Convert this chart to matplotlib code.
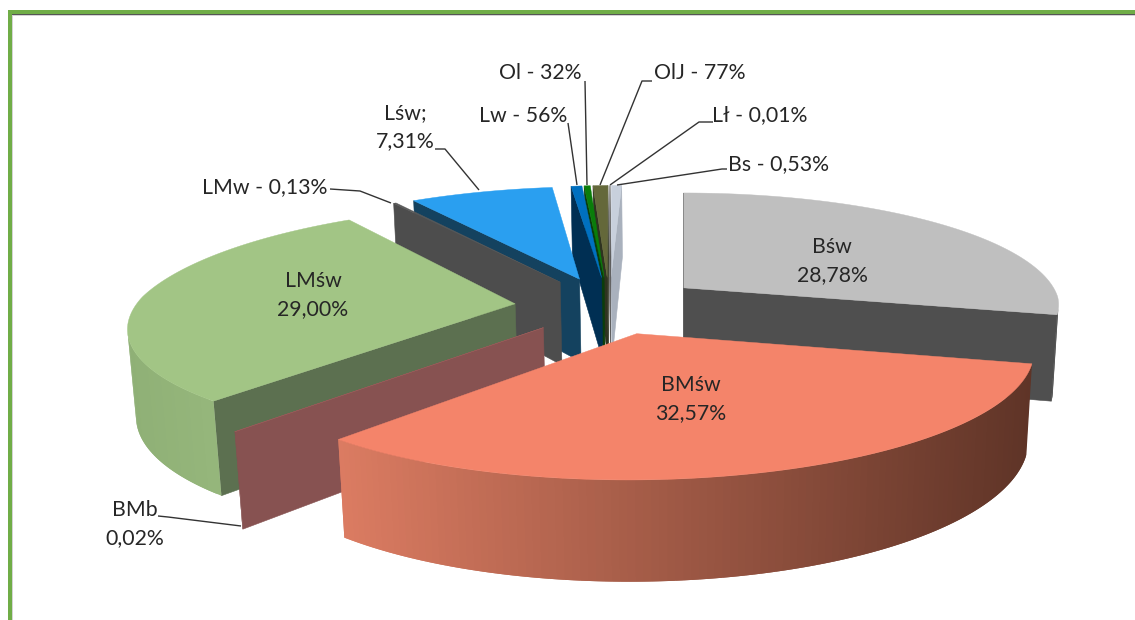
import numpy as np
from matplotlib import pyplot as plt
from matplotlib.colors import to_rgb
from matplotlib.patches import Polygon, Rectangle

plt.rcParams['font.family'] = ['Lato', 'DejaVu Sans']

# shares in percent, clockwise from 12 o'clock
names = ['Bśw', 'BMśw', 'BMb', 'LMśw', 'LMw', 'Lśw', 'Lw', 'Ol', 'OlJ', 'Lł', 'Bs']
shares = [28.78, 32.57, 0.02, 29.00, 0.13, 7.31, 0.56, 0.32, 0.77, 0.01, 0.53]

top_colors = ['#bfbfbf', '#f4846a', '#9a5c5a', '#a2c585', '#595959', '#2a9ff0',
              '#0070c0', '#0a7d0a', '#64683a', '#7f7f7f', '#c8d0dc']
face_colors = ['#4f4f4f', '#8a4a3a', '#875251', '#5c7050', '#4d4d4d', '#14425f',
               '#002f53', '#0b3d0b', '#2f3320', '#555555', '#a9b1bd']
rim_left = ['#4f4f4f', '#dc7c62', '#875251', '#8fb076', '#4d4d4d', '#14425f',
            '#002f53', '#0b3d0b', '#2f3320', '#555555', '#a9b1bd']
rim_right = ['#4f4f4f', '#5f3427', '#875251', '#9fc083', '#4d4d4d', '#14425f',
             '#002f53', '#0b3d0b', '#2f3320', '#555555', '#a9b1bd']

# labels and their leader lines (pixels)
inside_labels = [('Bśw\n28,78%', 832, 261), ('BMśw\n32,57%', 691, 399),
                 ('LMśw\n29,00%', 313, 295)]
outside_labels = [('LMw - 0,13%', 265, 187), ('Lśw;\n7,31%', 405, 127),
                  ('Lw - 56%', 523, 116), ('Ol - 32%', 540, 73),
                  ('OlJ - 77%', 700, 73), ('Lł - 0,01%', 760, 115),
                  ('Bs - 0,53%', 779, 164), ('BMb\n0,02%', 135, 524)]
leaders = [[(330, 189), (360, 191), (391, 203)],
           [(435, 149), (445, 149), (479, 190)],
           [(568, 123), (577, 185)],
           [(585, 81), (587, 185)],
           [(652, 81), (642, 81), (600, 185)],
           [(713, 122), (699, 122), (610, 185)],
           [(727, 169), (722, 169), (617, 185)],
           [(158, 516), (168, 517), (241, 526)]]

# projection, fitted to the picture
view_x, view_y = 683, 297
radius_px, height_px = 375, 86
depth_far, depth_near = 115, 112
persp_far, persp_near = 0.18, 0.15
persp_z = 0.015
center = (-0.194, -0.074)
explode = 0.25


def project(x, y, z=0.0):
    y = np.asarray(y, dtype=float)
    p = np.where(y > 0, persp_far, persp_near)
    d = np.where(y > 0, depth_far, depth_near)
    f = 1 / (1 + p * y + persp_z * z)
    return view_x + radius_px * x * f, view_y - d * y * f + height_px * z * f


def mix(c0, c1, t):
    a, b = np.array(to_rgb(c0)), np.array(to_rgb(c1))
    return tuple(a + (b - a) * t)


def faces_camera(px, py, nx, ny):
    # camera sits in front of the pie, at x=0
    return nx * (0 - px) + ny * (-1 / persp_far - py) > 0


fig = plt.figure(figsize=(11.35, 6.2), dpi=100)
ax = fig.add_axes([0, 0, 1, 1])
ax.set_xlim(0, 1135)
ax.set_ylim(620, 0)
ax.axis('off')

# frame
ax.add_patch(Rectangle((8, 10), 1127, 4, color='#70ad47', lw=0))
ax.add_patch(Rectangle((8, 10), 4, 610, color='#70ad47', lw=0))
ax.add_patch(Rectangle((12, 14), 1123, 1.2, color='#555555', lw=0))
ax.add_patch(Rectangle((12, 15), 1123, 1, color='#d4d4d4', lw=0))
ax.add_patch(Rectangle((12, 15), 1, 605, color='#d4d4d4', lw=0))

edges = np.concatenate([[0], np.cumsum(shares)]) / sum(shares) * 2 * np.pi
mids = (edges[:-1] + edges[1:]) / 2

# far slices first
for i in sorted(range(len(shares)), key=lambda k: -np.cos(mids[k])):
    a0, a1 = edges[i], edges[i + 1]
    ox = center[0] + explode * np.sin(mids[i])
    oy = center[1] + explode * np.cos(mids[i])
    th = np.linspace(a0, a1, max(3, int(np.degrees(a1 - a0)) + 2))
    xs = ox + np.sin(th)
    ys = oy + np.cos(th)

    # radial cut faces
    for a, sign, xe, ye in [(a0, -1, xs[0], ys[0]), (a1, 1, xs[-1], ys[-1])]:
        nx, ny = sign * np.cos(a), -sign * np.sin(a)
        if faces_camera(ox, oy, nx, ny):
            pts = [project(ox, oy), project(xe, ye), project(xe, ye, 1), project(ox, oy, 1)]
            ax.add_patch(Polygon(np.array(pts, dtype=float), closed=True,
                                 fc=face_colors[i], ec=face_colors[i], lw=0.4))

    # outer rim, shaded along x; every piece runs under the next so no seams show
    xpix = project(xs, ys)[0]
    for j in range(len(th) - 1):
        tm = (th[j] + th[j + 1]) / 2
        if not faces_camera(ox + np.sin(tm), oy + np.cos(tm), np.sin(tm), np.cos(tm)):
            continue
        t = np.clip((xpix[j] - xpix.min()) / max(1, xpix.max() - xpix.min()), 0, 1)
        k = min(j + 2, len(th) - 1)
        pts = [project(xs[j], ys[j]), project(xs[k], ys[k]),
               project(xs[k], ys[k], 1), project(xs[j], ys[j], 1)]
        ax.add_patch(Polygon(np.array(pts, dtype=float), closed=True,
                             fc=mix(rim_left[i], rim_right[i], t), lw=0))

    # top
    px, py = project(xs, ys)
    pts = [np.array(project(ox, oy), dtype=float)] + list(zip(px, py))
    ax.add_patch(Polygon(np.array(pts, dtype=float), closed=True,
                         fc=top_colors[i], ec=top_colors[i], lw=0.3))

for pts in leaders:
    ax.plot(*zip(*pts), color='#333333', lw=1.0, solid_capstyle='butt')

for txt, x, y in inside_labels + outside_labels:
    ax.text(x, y, txt, ha='center', va='center', fontsize=15.3, color='#262626',
            linespacing=1.45)

fig.savefig('out.png', dpi=100)
